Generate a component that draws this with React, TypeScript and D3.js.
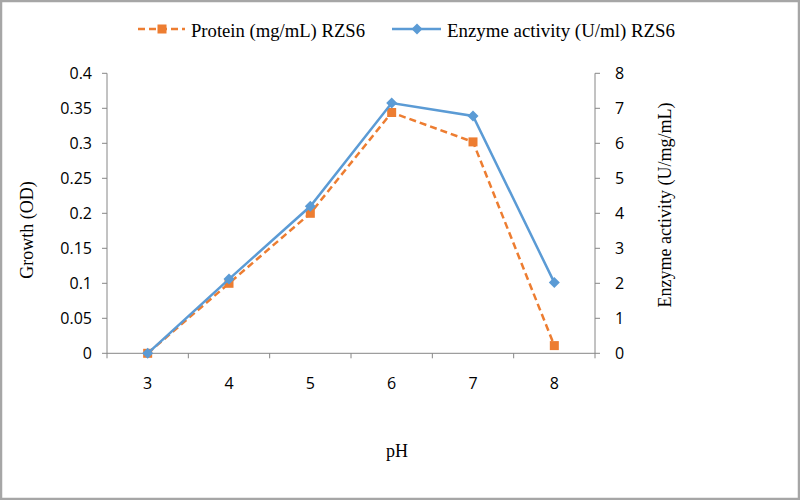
import React from "react";
import * as d3 from "d3";

const categories = ["3", "4", "5", "6", "7", "8"];
const proteinValues = [0, 0.1, 0.2, 0.344, 0.302, 0.011];
const enzymeValues = [0, 2.12, 4.2, 7.15, 6.78, 2.02];
const leftTicks = [0, 0.05, 0.1, 0.15, 0.2, 0.25, 0.3, 0.35, 0.4];
const rightTicks = [0, 1, 2, 3, 4, 5, 6, 7, 8];
const proteinLabel = "Protein (mg/mL) RZS6";
const enzymeLabel = "Enzyme activity (U/ml) RZS6";
const leftTitle = "Growth (OD)";
const rightTitle = "Enzyme activity (U/mg/mL)";
const xTitle = "pH";

const W = 800;
const H = 500;
const left = 107;
const right = 595;
const top = 73.3;
const bottom = 353.3;
const ORANGE = "#ED7D31";
const BLUE = "#5B9BD5";
const AXIS = "#868686";
const SERIF = "'Liberation Serif', 'Times New Roman', serif";
const SANS = "'Open Sans', 'Noto Sans', sans-serif";

export default function App() {
  const x = d3.scaleBand<string>().domain(categories).range([left, right]).padding(0);
  const cx = (c: string) => (x(c) as number) + x.bandwidth() / 2;
  const yL = d3.scaleLinear().domain([0, 0.4]).range([bottom, top]);
  const yR = d3.scaleLinear().domain([0, 8]).range([bottom, top]);

  const protLine = d3
    .line<number>()
    .x((_, i) => cx(categories[i]))
    .y((d) => yL(d));
  const enzLine = d3
    .line<number>()
    .x((_, i) => cx(categories[i]))
    .y((d) => yR(d));

  const boundaries = [...categories.map((c) => x(c) as number), right];
  const diamond = (px: number, py: number, r: number) =>
    `M${px},${py - r}L${px + r},${py}L${px},${py + r}L${px - r},${py}Z`;

  return (
    <svg
      width={W}
      height={H}
      style={{ position: "absolute", left: 0, top: 0, background: "#fff" }}
    >
      <rect x={1} y={1} width={W - 2} height={H - 2} fill="#fff" stroke="#a6a6a6" strokeWidth={2.5} />

      {/* Legend */}
      <g>
        <line x1={138} x2={185} y1={29} y2={29} stroke={ORANGE} strokeWidth={2.5} strokeDasharray="7,4" />
        <rect x={157.5} y={24.5} width={9} height={9} fill={ORANGE} />
        <text x={191} y={37} fontFamily={SERIF} fontSize={18} fill="#000" textLength={174} lengthAdjust="spacingAndGlyphs">
          {proteinLabel}
        </text>
        <line x1={392} x2={441} y1={29} y2={29} stroke={BLUE} strokeWidth={2.5} />
        <path d={diamond(417, 29, 5.5)} fill={BLUE} />
        <text x={447} y={37} fontFamily={SERIF} fontSize={18} fill="#000" textLength={228} lengthAdjust="spacingAndGlyphs">
          {enzymeLabel}
        </text>
      </g>

      {/* Axes */}
      <line x1={left} x2={left} y1={top} y2={bottom} stroke={AXIS} strokeWidth={1} />
      <line x1={right} x2={right} y1={top} y2={bottom} stroke={AXIS} strokeWidth={1} />
      <line x1={left} x2={right} y1={bottom} y2={bottom} stroke={AXIS} strokeWidth={1} />
      {boundaries.map((b, i) => (
        <line key={"xt" + i} x1={b} x2={b} y1={bottom} y2={bottom + 5} stroke={AXIS} />
      ))}
      {leftTicks.map((t) => (
        <g key={"lt" + t}>
          <line x1={left - 5} x2={left} y1={yL(t)} y2={yL(t)} stroke={AXIS} />
          <text x={92} y={yL(t)} dy="0.36em" textAnchor="end" fontFamily={SANS} fontSize={16} fill="#000">
            {String(t)}
          </text>
        </g>
      ))}
      {rightTicks.map((t) => (
        <g key={"rt" + t}>
          <line x1={right} x2={right + 5} y1={yR(t)} y2={yR(t)} stroke={AXIS} />
          <text x={615} y={yR(t)} dy="0.36em" textAnchor="start" fontFamily={SANS} fontSize={16} fill="#000">
            {String(t)}
          </text>
        </g>
      ))}
      {categories.map((c) => (
        <text key={"xl" + c} x={cx(c)} y={389} textAnchor="middle" fontFamily={SANS} fontSize={16} fill="#000">
          {c}
        </text>
      ))}

      {/* Titles */}
      <text x={397} y={457} textAnchor="middle" fontFamily={SERIF} fontSize={18} fill="#000">
        {xTitle}
      </text>
      <text
        transform="translate(33,230) rotate(-90)"
        textAnchor="middle"
        fontFamily={SERIF}
        fontSize={18}
        fill="#000"
      >
        {leftTitle}
      </text>
      <text
        transform="translate(671,205) rotate(-90)"
        textAnchor="middle"
        fontFamily={SERIF}
        fontSize={18}
        fill="#000"
      >
        {rightTitle}
      </text>

      {/* Series */}
      <path d={protLine(proteinValues) || ""} fill="none" stroke={ORANGE} strokeWidth={2.5} strokeDasharray="7,4" />
      {proteinValues.map((v, i) => (
        <rect key={"pm" + i} x={cx(categories[i]) - 4.5} y={yL(v) - 4.5} width={9} height={9} fill={ORANGE} />
      ))}
      <path d={enzLine(enzymeValues) || ""} fill="none" stroke={BLUE} strokeWidth={2.5} />
      {enzymeValues.map((v, i) => (
        <path key={"em" + i} d={diamond(cx(categories[i]), yR(v), 5.5)} fill={BLUE} />
      ))}
    </svg>
  );
}
